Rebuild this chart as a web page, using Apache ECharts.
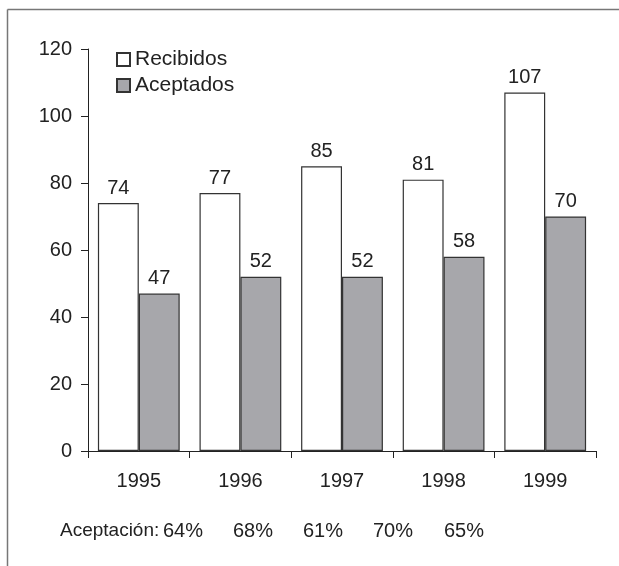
<!DOCTYPE html>
<html><head><meta charset="utf-8">
<script src="https://cdn.jsdelivr.net/npm/echarts@6/dist/echarts.min.js"></script>
<style>html,body{margin:0;padding:0;background:#fff}#c{width:619px;height:566px}</style>
</head><body><div id="c"></div>
<script>
const years = ['1995','1996','1997','1998','1999'];
const recibidos = [74, 77, 85, 81, 107];
const aceptados = [47, 52, 52, 58, 70];
const aceptacion = ['64%','68%','61%','70%','65%'];
const aceptacionX = [183, 253, 323, 393, 464];
const yTicks = {min: 0, max: 120, interval: 20};

const font = 'Liberation Sans, Arial, sans-serif';
const txt = '#222';
const chart = echarts.init(document.getElementById('c'));
const graphics = [
  {type:'line', shape:{x1:7.5,y1:9.5,x2:619,y2:9.5}, style:{stroke:'#777',lineWidth:1.5}},
  {type:'line', shape:{x1:7.5,y1:9.5,x2:7.5,y2:566}, style:{stroke:'#777',lineWidth:1.5}},
  {type:'text', x:60, y:531, style:{text:'Aceptación:', font:'19px '+font, fill:txt, textVerticalAlign:'middle'}}
];
aceptacion.forEach((t,i)=>graphics.push({type:'text', x:aceptacionX[i], y:531,
  style:{text:t, font:'20px '+font, fill:txt, textAlign:'center', textVerticalAlign:'middle'}}));

chart.setOption({
  animation:false,
  textStyle:{fontFamily:font},
  grid:{left:88, right:23, top:49, bottom:115, containLabel:false},
  legend:{orient:'vertical', left:111, top:44, itemWidth:13, itemHeight:13, itemGap:5,
    icon:'rect', textStyle:{fontSize:21, color:txt, fontFamily:font},
    data:['Recibidos','Aceptados']},
  xAxis:{type:'category', data:years,
    axisLine:{lineStyle:{color:'#222', width:1}},
    axisTick:{show:true, length:7, lineStyle:{color:'#222'}},
    axisLabel:{fontSize:20, color:txt, margin:20, fontFamily:font}},
  yAxis:{type:'value', min:yTicks.min, max:yTicks.max, interval:yTicks.interval,
    axisLine:{show:true, lineStyle:{color:'#222', width:1}},
    axisTick:{show:true, length:7, lineStyle:{color:'#222'}},
    splitLine:{show:false},
    axisLabel:{fontSize:20, color:txt, margin:16, fontFamily:font}},
  series:[
    {name:'Recibidos', type:'bar', data:recibidos, barGap:'0%', barCategoryGap:'19.5%',
      itemStyle:{color:'#fff', borderColor:'#333', borderWidth:1.2},
      label:{show:true, position:'top', distance:5, fontSize:20, color:txt, fontFamily:font}},
    {name:'Aceptados', type:'bar', data:aceptados, barGap:'0%', barCategoryGap:'19.5%',
      itemStyle:{color:'#a7a7ab', borderColor:'#333', borderWidth:1.2},
      label:{show:true, position:'top', distance:5, fontSize:20, color:txt, fontFamily:font}}
  ],
  graphic:graphics
});
</script></body></html>
